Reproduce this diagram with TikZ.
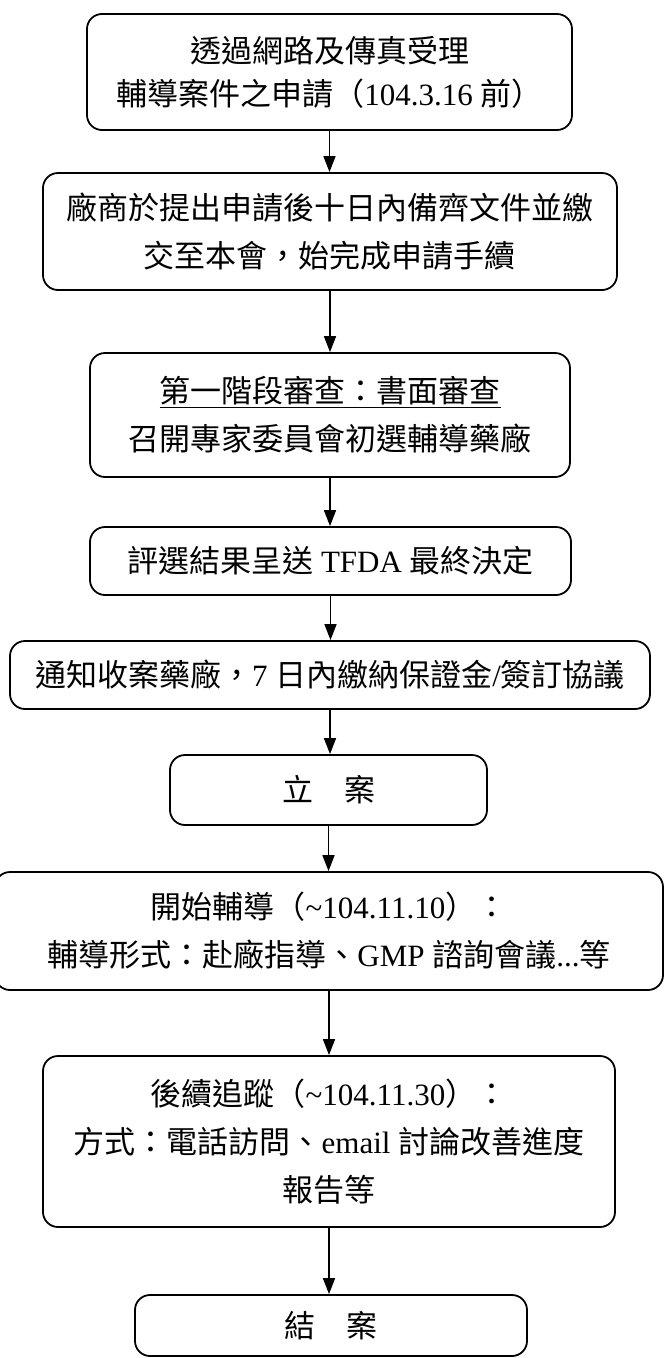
\documentclass[tikz,border=0pt]{standalone}
\usepackage{fontspec}
\setmainfont{Liberation Serif}
\newfontfamily\zhfont{Noto Sans CJK TC}
\newcommand{\zh}[1]{{\zhfont #1}}
\usetikzlibrary{arrows.meta}
\begin{document}
\begin{tikzpicture}[x=1pt,y=-1pt,
  box/.style={draw, line width=1.8pt, rounded corners=15pt, align=center, inner sep=0pt,
              font=\fontsize{31}{48}\selectfont},
  arr/.style={line width=1.6pt, -{Triangle[width=12pt,length=16pt]}}]
\useasboundingbox (0,0) rectangle (665,1358);
\fill[white] (0,0) rectangle (665,1358);

\node[box, minimum width=485pt, minimum height=116pt, font=\fontsize{31}{43}\selectfont] (b1) at (329.5,72)
  {\zh{透過網路及傳真受理}\\\zh{輔導案件之申請（}104.3.16 \zh{前）}};
\node[box, minimum width=574pt, minimum height=117pt] (b2) at (330,231.5)
  {\zh{廠商於提出申請後十日內備齊文件並繳}\\\zh{交至本會，始完成申請手續}};
\node[box, minimum width=480pt, minimum height=124pt] (b3) at (330,415)
  {\underline{\zh{第一階段審查：書面審查}}\\\zh{召開專家委員會初選輔導藥廠}};
\node[box, minimum width=481pt, minimum height=68pt] (b4) at (330.5,561)
  {\zh{評選結果呈送} TFDA \zh{最終決定}};
\node[box, minimum width=640pt, minimum height=68pt] (b5) at (330,675)
  {\zh{通知收案藥廠，}7 \zh{日內繳納保證金}/\zh{簽訂協議}};
\node[box, minimum width=317pt, minimum height=70pt] (b6) at (328.5,790)
  {\zh{立　案}};
\node[box, minimum width=668pt, minimum height=118pt] (b7) at (329,931)
  {\zh{開始輔導（}\textasciitilde104.11.10\zh{）：}\\\zh{輔導形式：赴廠指導、}GMP \zh{諮詢會議}...\zh{等}};
\node[box, minimum width=572pt, minimum height=171pt] (b8) at (329,1141.5)
  {\zh{後續追蹤（}\textasciitilde104.11.30\zh{）：}\\\zh{方式：電話訪問、}email \zh{討論改善進度}\\\zh{報告等}};
\node[box, minimum width=392pt, minimum height=61pt] (b9) at (331,1325.5)
  {\zh{結　案}};

\draw[arr] (b1.south) -- (b1.south |- b2.north);
\draw[arr] (b2.south) -- (b2.south |- b3.north);
\draw[arr] (b3.south) -- (b3.south |- b4.north);
\draw[arr] (b4.south) -- (b4.south |- b5.north);
\draw[arr] (b5.south) -- (b5.south |- b6.north);
\draw[arr] (b6.south) -- (b6.south |- b7.north);
\draw[arr] (b7.south) -- (b7.south |- b8.north);
\draw[arr] (b8.south) -- (b8.south |- b9.north);
\end{tikzpicture}
\end{document}
